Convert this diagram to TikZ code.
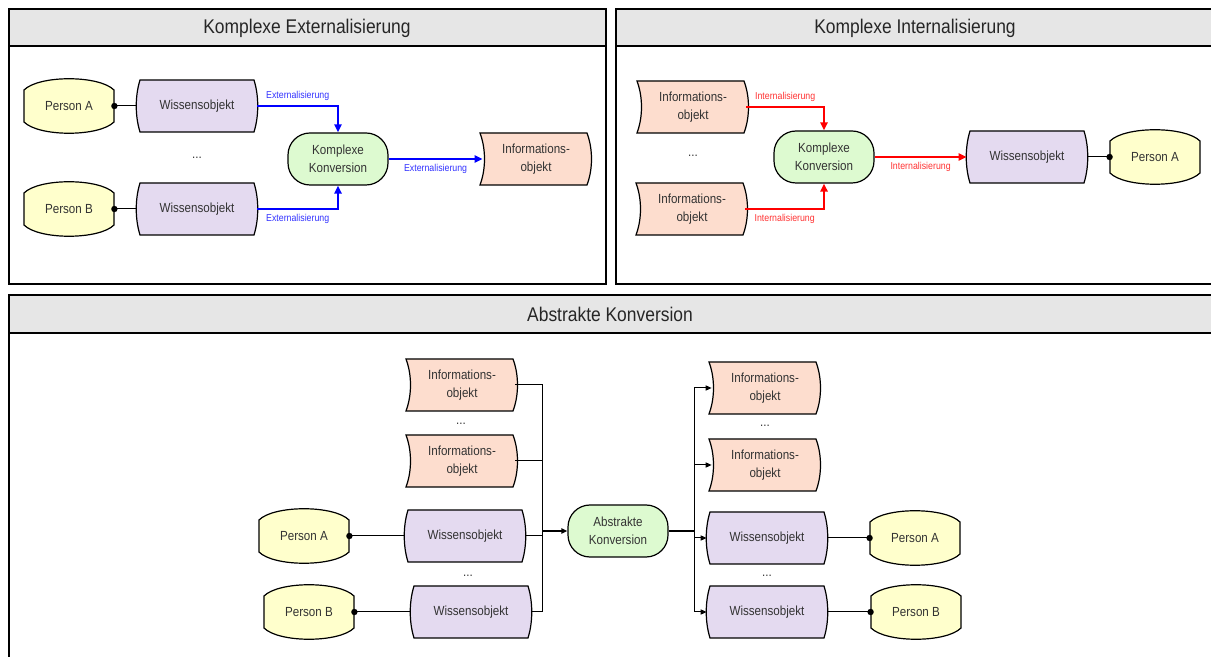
\documentclass[tikz,border=0pt]{standalone}
\usepackage{fontspec}
\setmainfont{Liberation Sans}[FakeStretch=0.88]
\usepackage{tikz}
\usetikzlibrary{arrows.meta}

\definecolor{persony}{RGB}{255,255,204}
\definecolor{wissenv}{RGB}{228,218,240}
\definecolor{infor}{RGB}{253,221,206}
\definecolor{konvg}{RGB}{221,250,208}
\definecolor{hdrgray}{RGB}{230,230,230}
\definecolor{extblue}{RGB}{0,0,255}
\definecolor{intred}{RGB}{255,0,0}

\newcommand{\myarrow}{Triangle[length=4pt,width=3.6pt]}
\newcommand{\smallarrow}{Triangle[length=3pt,width=2.6pt]}

% outlines centred at the origin, units are pixels
\newcommand\personshape{(-45,-16) .. controls (-30,-31) and (30,-31) .. (45,-16)
  -- (45,16) .. controls (30,31) and (-30,31) .. (-45,16) -- cycle}
\newcommand\wissenshape{(-57,-26) -- (57,-26) .. controls (62,-10) and (62,10) .. (57,26)
  -- (-57,26) .. controls (-62,10) and (-62,-10) .. (-57,-26) -- cycle}
\newcommand\infoshape{(-56,-26) -- (51,-26) .. controls (57,-10) and (57,10) .. (51,26)
  -- (-56,26) .. controls (-50,10) and (-50,-10) .. (-56,-26) -- cycle}

\newcommand\person[3]{% name, centre, text
  \draw[fill=persony, line width=0.6pt, shift={(#2)}] \personshape;
  \node[txt, minimum width=45pt, minimum height=27pt] (#1) at (#2) {#3};
}
\newcommand\wissen[2]{% name, centre
  \draw[fill=wissenv, line width=0.6pt, shift={(#2)}] \wissenshape;
  \node[txt, minimum width=60pt, minimum height=26pt] (#1) at (#2) {Wissensobjekt};
}
\newcommand\info[2]{% name, centre
  \draw[fill=infor, line width=0.6pt, shift={(#2)}] \infoshape;
  \node[txt, minimum width=53pt, minimum height=26pt] (#1) at (#2) {Informations-\\objekt};
}

\tikzset{
  txt/.style={inner sep=0pt, align=center, text=black!80,
    font=\fontsize{6.6}{9}\selectfont},
  konv/.style={txt, draw=black, fill=konvg, line width=0.6pt, rounded corners=11pt,
    minimum width=50pt, minimum height=26pt},
  title/.style={font=\fontsize{9.9}{12}\selectfont, text=black!85},
  ext/.style={draw=extblue, line width=1.2pt, -\myarrow},
  int/.style={draw=intred, line width=1.2pt, -\myarrow},
  elbl/.style={font=\fontsize{5}{6}\selectfont, text={rgb,255:red,50;green,50;blue,255}, inner sep=2pt},
  ilbl/.style={font=\fontsize{5}{6}\selectfont, text={rgb,255:red,255;green,50;blue,50}, inner sep=2pt},
  conn/.style={draw=black, line width=0.5pt},
}

\begin{document}
\begin{tikzpicture}[x=0.5pt, y=-0.5pt]
  % frame is (0,0) to (1211,657), y grows downwards
  \clip (0,0) rectangle (1211,657);

  % panels
  \draw[line width=0.7pt] (9,9) rectangle (606,284);
  \draw[line width=0.7pt, fill=hdrgray] (9,9) rectangle (606,46);
  \node[title] (t1) at (307,28) {Komplexe Externalisierung};
  \draw[line width=0.7pt] (616,9) rectangle (1220,284);
  \draw[line width=0.7pt, fill=hdrgray] (616,9) rectangle (1220,46);
  \node[title] (t2) at (915,28) {Komplexe Internalisierung};
  \draw[line width=0.7pt] (9,295) rectangle (1220,680);
  \draw[line width=0.7pt, fill=hdrgray] (9,295) rectangle (1220,333);
  \node[title] (t3) at (610,314) {Abstrakte Konversion};

  % Komplexe Externalisierung
  \person{pa1}{69,106}{Person A}
  \wissen{wa1}{197,106}
  \person{pb1}{69,209}{Person B}
  \wissen{wb1}{197,209}
  \node[txt] (d1) at (197,158) {...};
  \node[konv] (kk1) at (338,159) {Komplexe\\Konversion};
  \info{io1}{536,159}
  \draw[conn] (pa1.east) -- (wa1.west);
  \fill (pa1.east) circle[radius=1.6pt];
  \draw[conn] (pb1.east) -- (wb1.west);
  \fill (pb1.east) circle[radius=1.6pt];
  \draw[ext] (wa1.east) -| node[elbl, pos=0.25, above] {Externalisierung} (kk1.north);
  \draw[ext] (wb1.east) -| node[elbl, pos=0.25, below] {Externalisierung} (kk1.south);
  \draw[ext] (kk1) -- node[elbl, below] {Externalisierung} (io1);

  % Komplexe Internalisierung
  \info{ii1}{693,107}
  \node[txt] (d2) at (693,156) {...};
  \info{ii2}{692,209}
  \node[konv] (kk2) at (824,157) {Komplexe\\Konversion};
  \wissen{wi}{1027,157}
  \person{pi}{1155,157}{Person A}
  \draw[int] (ii1.east) -| node[ilbl, pos=0.25, above] {Internalisierung} (kk2.north);
  \draw[int] (ii2.east) -| node[ilbl, pos=0.25, below] {Internalisierung} (kk2.south);
  \draw[int] (kk2) -- node[ilbl, below] {Internalisierung} (wi);
  \draw[conn] (wi.east) -- (pi.west);
  \fill (pi.west) circle[radius=1.6pt];

  % Abstrakte Konversion, input side
  \info{ia1}{462,385}
  \node[txt] (d3) at (461,424) {...};
  \info{ia2}{462,461}
  \person{pa3}{304,536}{Person A}
  \wissen{wa3}{465,536}
  \node[txt] (d4) at (468,576) {...};
  \person{pb3}{309,612}{Person B}
  \wissen{wb3}{471,612}
  \node[konv] (ak) at (618,531) {Abstrakte\\Konversion};
  \coordinate (jl) at (542,531);
  \draw[conn] (pa3.east) -- (wa3.west);
  \fill (pa3.east) circle[radius=1.6pt];
  \draw[conn] (pb3.east) -- (wb3.west);
  \fill (pb3.east) circle[radius=1.6pt];
  \draw[conn] (ia1.east) -| (jl);
  \draw[conn] (ia2.east) -| (jl);
  \draw[conn] (wa3.east) -| (jl);
  \draw[conn] (wb3.east) -| (jl);
  \draw[conn, line width=1pt, -\smallarrow] (jl) -- (ak);

  % Abstrakte Konversion, output side
  \coordinate (jr) at (694,531);
  \info{ib1}{765,388}
  \node[txt] (d5) at (765,426) {...};
  \info{ib2}{765,465}
  \wissen{wc1}{767,538}
  \node[txt] (d6) at (767,576) {...};
  \wissen{wc2}{767,612}
  \person{pc1}{915,538}{Person A}
  \person{pc2}{916,612}{Person B}
  \draw[conn, line width=1pt] (ak) -- (jr);
  \draw[conn, -\smallarrow] (jr) |- (ib1);
  \draw[conn, -\smallarrow] (jr) |- (ib2);
  \draw[conn, -\smallarrow] (jr) |- (wc1);
  \draw[conn, -\smallarrow] (jr) |- (wc2);
  \draw[conn] (wc1.east) -- (pc1.west);
  \fill (pc1.west) circle[radius=1.6pt];
  \draw[conn] (wc2.east) -- (pc2.west);
  \fill (pc2.west) circle[radius=1.6pt];

\end{tikzpicture}
\end{document}
